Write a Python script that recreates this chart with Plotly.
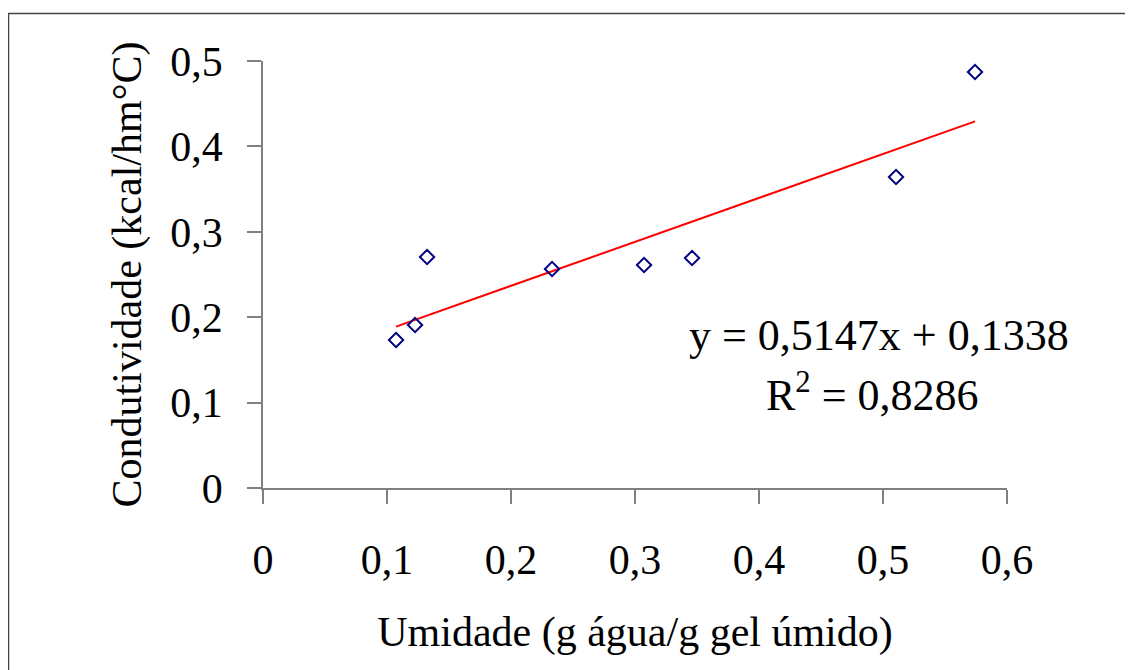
import plotly.graph_objects as go

umidade = [0.1073, 0.1226, 0.1323, 0.2331, 0.3073, 0.3460, 0.5105, 0.5742]
condutividade = [0.1733, 0.1909, 0.2705, 0.2564, 0.2611, 0.2693, 0.3642, 0.4871]
slope = 0.5147
intercept = 0.1338
eq_text = "y = 0,5147x + 0,1338"
r2_text = "R<sup>2</sup> = 0,8286"
x_ticks = [0, 0.1, 0.2, 0.3, 0.4, 0.5, 0.6]
x_ticklabels = ["0", "0,1", "0,2", "0,3", "0,4", "0,5", "0,6"]
y_ticks = [0, 0.1, 0.2, 0.3, 0.4, 0.5]
y_ticklabels = ["0", "0,1", "0,2", "0,3", "0,4", "0,5"]

FONT = "Liberation Serif, Times New Roman, serif"

x_fit = [min(umidade), max(umidade)]
y_fit = [slope * v + intercept for v in x_fit]

fig = go.Figure()
fig.add_trace(go.Scatter(x=x_fit, y=y_fit, mode="lines",
                         line=dict(color="#ff0000", width=2), hoverinfo="skip"))
fig.add_trace(go.Scatter(x=umidade, y=condutividade, mode="markers",
                         marker=dict(symbol="diamond-open", size=11, color="#000080",
                                     line=dict(width=2, color="#000080"))))

OFF = 8  # page body margin
L, T, W, H = 263 - OFF, 61 - OFF, 744, 427
FW, FH = 1133 - OFF, 670 - OFF
def px(x):
    return (x - OFF - L) / W
def py(y):
    return (T + H - (y - OFF)) / H

fig.update_layout(
    width=FW, height=FH,
    margin=dict(l=L, r=FW - L - W, t=T, b=FH - T - H, pad=0),
    paper_bgcolor="white", plot_bgcolor="white",
    showlegend=False,
    separators=", ",
    font=dict(family=FONT, size=42, color="black"),
    xaxis=dict(range=[0, 0.6], tickvals=x_ticks, ticktext=x_ticklabels,
               showgrid=False, zeroline=False, showline=True, linecolor="#808080",
               linewidth=1.5, ticks="outside", ticklen=14, tickcolor="#808080",
               tickwidth=1.5, ticklabelstandoff=20,
               tickfont=dict(family=FONT, size=42, color="black"),
               title=dict(text="Umidade (g água/g gel úmido)", standoff=34,
                          font=dict(family=FONT, size=42, color="black"))),
    yaxis=dict(range=[0, 0.5], tickvals=y_ticks, ticktext=y_ticklabels,
               showgrid=False, zeroline=False, showline=True, linecolor="#808080",
               linewidth=1.5, ticks="outside", ticklen=14, tickcolor="#808080",
               tickwidth=1.5, ticklabelstandoff=16,
               tickfont=dict(family=FONT, size=42, color="black"),
               title=dict(text="Condutividade (kcal/hm°C)", standoff=16,
                          font=dict(family=FONT, size=42, color="black"))),
    shapes=[dict(type="rect", xref="paper", yref="paper",
                 x0=px(8.5), x1=px(1145), y0=py(685), y1=py(13.5),
                 line=dict(color="#444444", width=1.5), layer="below")],
    annotations=[
        dict(text=eq_text, xref="paper", yref="paper", x=px(879), y=py(335),
             showarrow=False, xanchor="center", yanchor="middle",
             font=dict(family=FONT, size=44, color="black")),
        dict(text=r2_text, xref="paper", yref="paper", x=px(872), y=py(392),
             showarrow=False, xanchor="center", yanchor="middle",
             font=dict(family=FONT, size=44, color="black")),
    ],
)

fig.write_html("out.html")
